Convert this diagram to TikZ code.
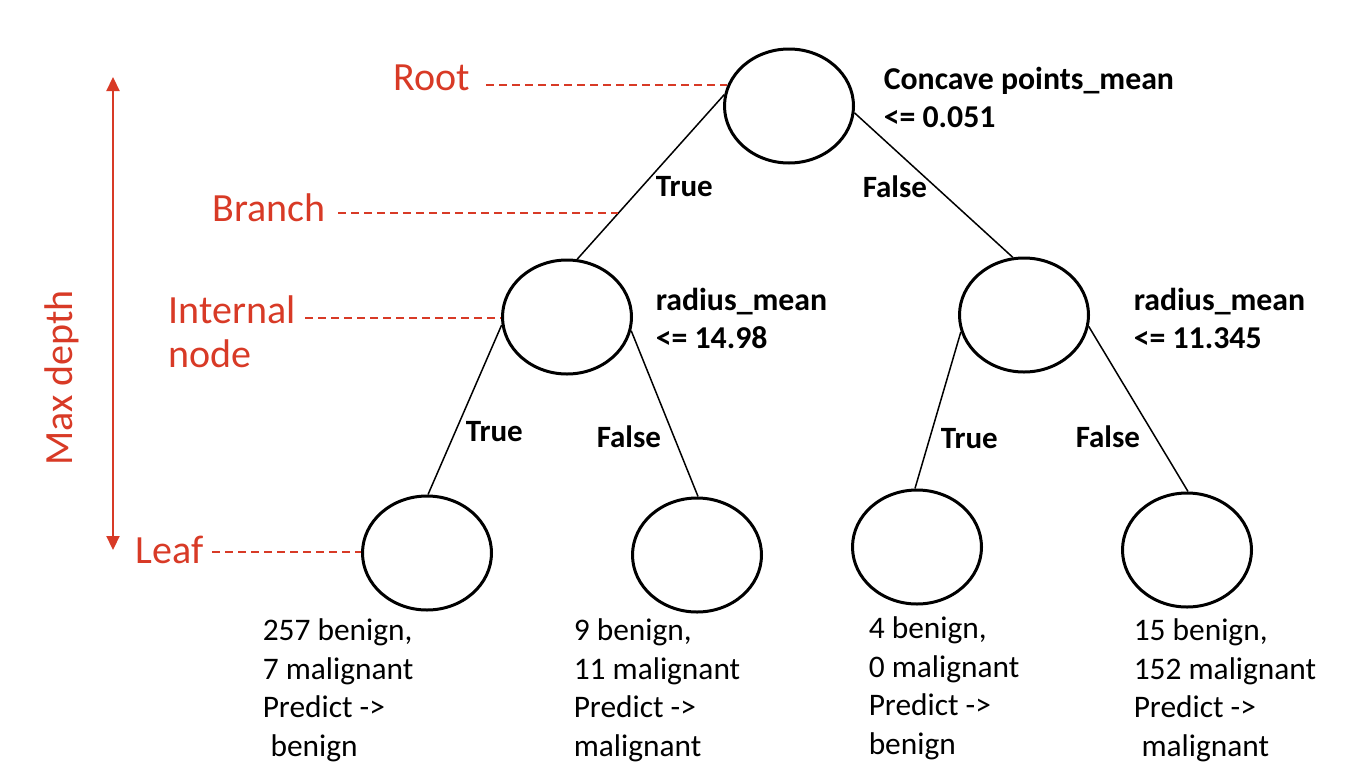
\documentclass[tikz,border=0pt]{standalone}
\usepackage{fontspec}
\setmainfont{Carlito}
\usepackage{tikz}
\usetikzlibrary{shapes,arrows,arrows.meta,calc}
\definecolor{mred}{RGB}{216,58,38}
\tikzset{tnode/.style={ellipse,draw,line width=3pt,minimum width=129pt,minimum height=114pt,inner sep=0pt},
  lab/.style={text=mred,font=\fontsize{40}{44}\selectfont,inner sep=0pt,align=left,anchor=west},
  cond/.style={font=\bfseries\fontsize{31.8}{38.5}\selectfont,inner sep=0pt,align=left,anchor=north west},
  tf/.style={font=\bfseries\fontsize{31}{34}\selectfont,inner sep=0pt,anchor=west},
  leaftxt/.style={font=\fontsize{31.4}{38.7}\selectfont,inner sep=0pt,align=left,anchor=north west},
  guide/.style={draw=mred,line width=1.8pt,dash pattern=on 8pt off 5pt},
  dtip/.tip={Triangle[length=14pt,width=13pt]}}
\begin{document}
\begin{tikzpicture}[x=1pt,y=-1pt,line width=1.5pt]
  \useasboundingbox (0,0) rectangle (1354,782);
  % tree
  \node[tnode] (n0) at (789,106) {};
  \node[tnode] (n1) at (567,317) {};
  \node[tnode] (n2) at (1024,315) {};
  \node[tnode] (n3) at (427,553) {};
  \node[tnode] (n4) at (697,555) {};
  \node[tnode] (n5) at (917,547) {};
  \node[tnode] (n6) at (1187,550) {};
  \draw (n0.170) edge (n1.80)
  (n0.-6) edge (n2.101)
  (n1.187) edge (n3.89)
  (n1.-12) edge (n4.89)
  (n2.195) edge (n5.92)
  (n2.-10) edge (n6.89)
  ;
  % split labels
  \node[cond] (c0) at (883,66) {Concave points\_mean\\<= 0.051};
  \node[cond] (c1) at (655,287) {radius\_mean\\<= 14.98};
  \node[cond] (c2) at (1133,287) {radius\_mean\\<= 11.345};
  \node[tf] (t0) at (655,187) {True};
  \node[tf] (f0) at (862,187) {False};
  \node[tf] (t1) at (465,432) {True};
  \node[tf] (f1) at (596,437) {False};
  \node[tf] (t2) at (940,439) {True};
  \node[tf] (f2) at (1075,437) {False};
  % leaf counts
  \node[leaftxt] (l3) at (262,618) {257 benign,\\7 malignant\\Predict ->\\\hspace*{0.25em}benign};
  \node[leaftxt] (l4) at (573,618) {9 benign,\\11 malignant\\Predict ->\\malignant};
  \node[leaftxt] (l5) at (868,616) {4 benign,\\0 malignant\\Predict ->\\benign};
  \node[leaftxt] (l6) at (1133,618) {15 benign,\\152 malignant\\Predict ->\\\hspace*{0.25em}malignant};
  % annotations
  \node[lab] (root) at (393,78) {Root};
  \node[lab] (branch) at (212,208) {Branch};
  \node[lab] (inner) at (168,332) {Internal\\node};
  \node[lab] (leaf) at (135,550) {Leaf};
  \node[lab,anchor=center,rotate=90] (depth) at (62,378) {Max depth};
  \coordinate (g0) at (486,85);
  \coordinate (g1) at (338,213);
  \coordinate (g2) at (305,318);
  \coordinate (g3) at (212,552);
  \draw[guide] (g0) -- (g0 -| n0.162);
  \draw[guide] (g1) -- (g1 -| {$(n0.170)!0.72!(n1.80)$});
  \draw[guide] (g2) -- (g2 -| n1.west);
  \draw[guide] (g3) -- (g3 -| n3.west);
  \coordinate (dtop) at (113,77);
  \coordinate (dbot) at (113,550);
  \draw[mred,line width=2.2pt,dtip-dtip] (dtop) -- (dbot);
\end{tikzpicture}
\end{document}
